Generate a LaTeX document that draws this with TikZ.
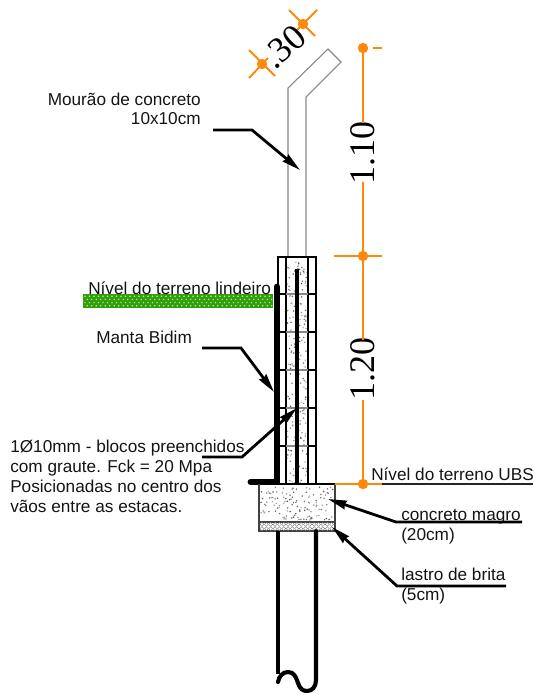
\documentclass[tikz,border=0pt]{standalone}
\usepackage{fontspec}
\setmainfont{Liberation Sans}
\newfontfamily\dimfont{Liberation Serif}
\usetikzlibrary{arrows.meta}
\definecolor{dimorange}{RGB}{255,136,10}
\definecolor{turf}{RGB}{48,160,8}
\definecolor{postgray}{RGB}{135,135,135}
\tikzset{
 lbl/.style={inner sep=0pt,font=\fontsize{12.9pt}{15pt}\selectfont,text=black!92},
 dimtext/.style={inner sep=0pt,font=\dimfont\fontsize{27pt}{27pt}\selectfont,text=black},
 leader/.style={line width=2.1pt,-{Stealth[length=14pt,width=6.5pt,inset=1pt]},line join=miter},
 dimline/.style={dimorange,line width=1.4pt},
 dimdot/.style={circle,fill=dimorange,minimum size=7.8pt,inner sep=0pt},
 wallline/.style={line width=1.2pt,black},
 brickline/.style={line width=1.2pt,black},
 post/.style={postgray,line width=0.8pt,line join=miter},
 heavy/.style={line width=5.2pt,line cap=round,black},
 rebar/.style={line width=3.1pt,black},
}
\begin{document}
\begin{tikzpicture}[x=0.75pt,y=-0.75pt]
\useasboundingbox (0,0) rectangle (533,693);

% turf
\fill[turf] (83,294) rectangle (273,308);
\foreach \r in {0,1,2,3}{
  \foreach \k in {0,...,41}{
    \pgfmathsetmacro{\dx}{mod(\r,2)*2.25}
    \fill[white!70!turf] (85+4.5*\k+\dx,296.2+3.2*\r) circle (0.62pt);
  }
}

% concrete infill stipple
\pgfmathsetseed{17}
\foreach \i in {1,...,190}{
  \pgfmathsetmacro{\px}{287+20*rnd}
  \pgfmathsetmacro{\py}{258+225*rnd}
  \pgfmathsetmacro{\pg}{30+40*rnd}
  \fill[black!\pg] (\px,\py) circle (0.62pt);
}
% footing stipple
\foreach \i in {1,...,125}{
  \pgfmathsetmacro{\px}{261+72*rnd}
  \pgfmathsetmacro{\py}{487+33*rnd}
  \pgfmathsetmacro{\pg}{30+40*rnd}
  \fill[black!\pg] (\px,\py) circle (0.62pt);
}

% post
\coordinate (pa) at (288,257);
\coordinate (pb) at (288,88);
\coordinate (pc) at (328,49);
\coordinate (pd) at (341,62);
\coordinate (pe) at (306,97);
\coordinate (pf) at (306,257);
\draw[post] (pa) -- (pb) -- (pc) -- (pd) -- (pe) -- (pf);

% block wall
\draw[wallline] (278,484) -- (278,257) -- (316,257) -- (316,484);
\draw[wallline] (286,257) -- (286,484);
\draw[wallline] (308,257) -- (308,484);
\foreach \yy in {294,332,370,408,446}{
  \draw[brickline] (278,\yy) -- (286,\yy);
  \draw[brickline] (308,\yy) -- (316,\yy);
  \draw[postgray,line width=0.8pt] (286,\yy) -- (308,\yy);
}
\draw[wallline] (278,484) -- (335,484);
\draw[rebar] (297,269) -- (297,484);

% manta
\draw[heavy] (277,287) -- (277,482) -- (251,482);

% footing and gravel
\draw[line width=0.9pt,black!75] (259,484) -- (259,531) -- (335,531) -- (335,484);
\draw[line width=0.9pt,black!75] (259,522) -- (335,522);
\foreach \k in {0,...,16}{
  \draw[black!55,line width=0.25pt,fill=white] (262+4.35*\k,524.4) circle (1.45pt);
  \draw[black!55,line width=0.25pt,fill=white] (262+4.35*\k,528.6) circle (1.45pt);
}

% piles
\draw[rebar] (278,531) -- (278,674);
\draw[line width=3.1pt,line cap=round] (278,682) .. controls (279,676) and (283,672) .. (288,672)
  .. controls (294,672) and (296,677) .. (298,683)
  .. controls (300,689) and (303,691) .. (307,691)
  .. controls (312,691) and (316,687) .. (316,680) -- (316,531);

% dimension lines
\coordinate (dt) at (363,48);
\coordinate (dm) at (363,256);
\coordinate (db) at (363,484);
\node[dimtext,rotate=90] (d110) at (363,152.5) {1.10};
\node[dimtext,rotate=90] (d120) at (363,368.5) {1.20};
\draw[dimline] (dt) -- (363,123);
\draw[dimline] (363,182) -- (dm);
\draw[dimline] (dm) -- (363,340);
\draw[dimline] (363,400) -- (db);
\draw[dimline] (373,48) -- (382,48);
\draw[dimline] (334,256) -- (382,256);
\draw[dimline] (335,484) -- (382,484);
\draw[line width=1.2pt,black!85] (382,484) -- (533,484);
\node[dimdot] (ndt) at (dt) {};
\node[dimdot] (ndm) at (dm) {};
\node[dimdot] (ndb) at (db) {};

% diagonal dimension
\coordinate (da) at (262,64);
\coordinate (dc) at (303,24);
\draw[dimline] (249,50) -- (275,76);
\draw[dimline] (249,78) -- (268,58);
\draw[dimline] (289,10) -- (315,36);
\draw[dimline] (317,10) -- (297,30);
\node[dimdot] (nda) at (da) {};
\node[dimdot] (ndc) at (dc) {};
\node[dimtext,rotate=42] (d30) at (284,47) {.30};

% labels
\node[lbl,anchor=base east] (l1) at (201,105) {Mourão de concreto};
\node[lbl,anchor=base east] (l2) at (201,124.5) {10x10cm};
\node[lbl,anchor=base west] (l3) at (88,294) {Nível do terreno lindeiro};
\node[lbl,anchor=base west] (l4) at (96,343.5) {Manta Bidim};
\node[lbl,anchor=base west] (l5) at (10,452.5) {1Ø10mm - blocos preenchidos};
\node[lbl,anchor=base west] (l6) at (10,472.5) {com graute. Fck = 20 Mpa};
\node[lbl,anchor=base west] (l7) at (10,492.5) {Posicionadas no centro dos};
\node[lbl,anchor=base west] (l8) at (10,512.5) {vãos entre as estacas.};
\node[lbl,anchor=base west] (l9) at (371,480.5) {Nível do terreno UBS};
\node[lbl,anchor=base west] (l10) at (401,520) {concreto magro};
\node[lbl,anchor=base west] (l11) at (401,540) {(20cm)};
\node[lbl,anchor=base west] (l12) at (401,580) {lastro de brita};
\node[lbl,anchor=base west] (l13) at (401,600) {(5cm)};

% leaders
\coordinate (m0) at (213,130);
\coordinate (m1) at (252,130);
\coordinate (m2) at (300,170);
\draw[leader] (m0) -- (m1) -- (m2);
\coordinate (b0) at (202,348);
\coordinate (b1) at (241,348);
\coordinate (b2) at (274,392);
\draw[leader] (b0) -- (b1) -- (b2);
\coordinate (g0) at (202,457);
\coordinate (g1) at (242,457);
\coordinate (g2) at (297,408);
\draw[leader] (g0) -- (g1) -- (g2);
\coordinate (c0) at (522,522);
\coordinate (c1) at (396,522);
\coordinate (c2) at (328,499);
\draw[leader] (c0) -- (c1) -- (c2);
\coordinate (q0) at (506,586);
\coordinate (q1) at (397,586);
\coordinate (q2) at (332,527);
\draw[leader] (q0) -- (q1) -- (q2);
\end{tikzpicture}
\end{document}
